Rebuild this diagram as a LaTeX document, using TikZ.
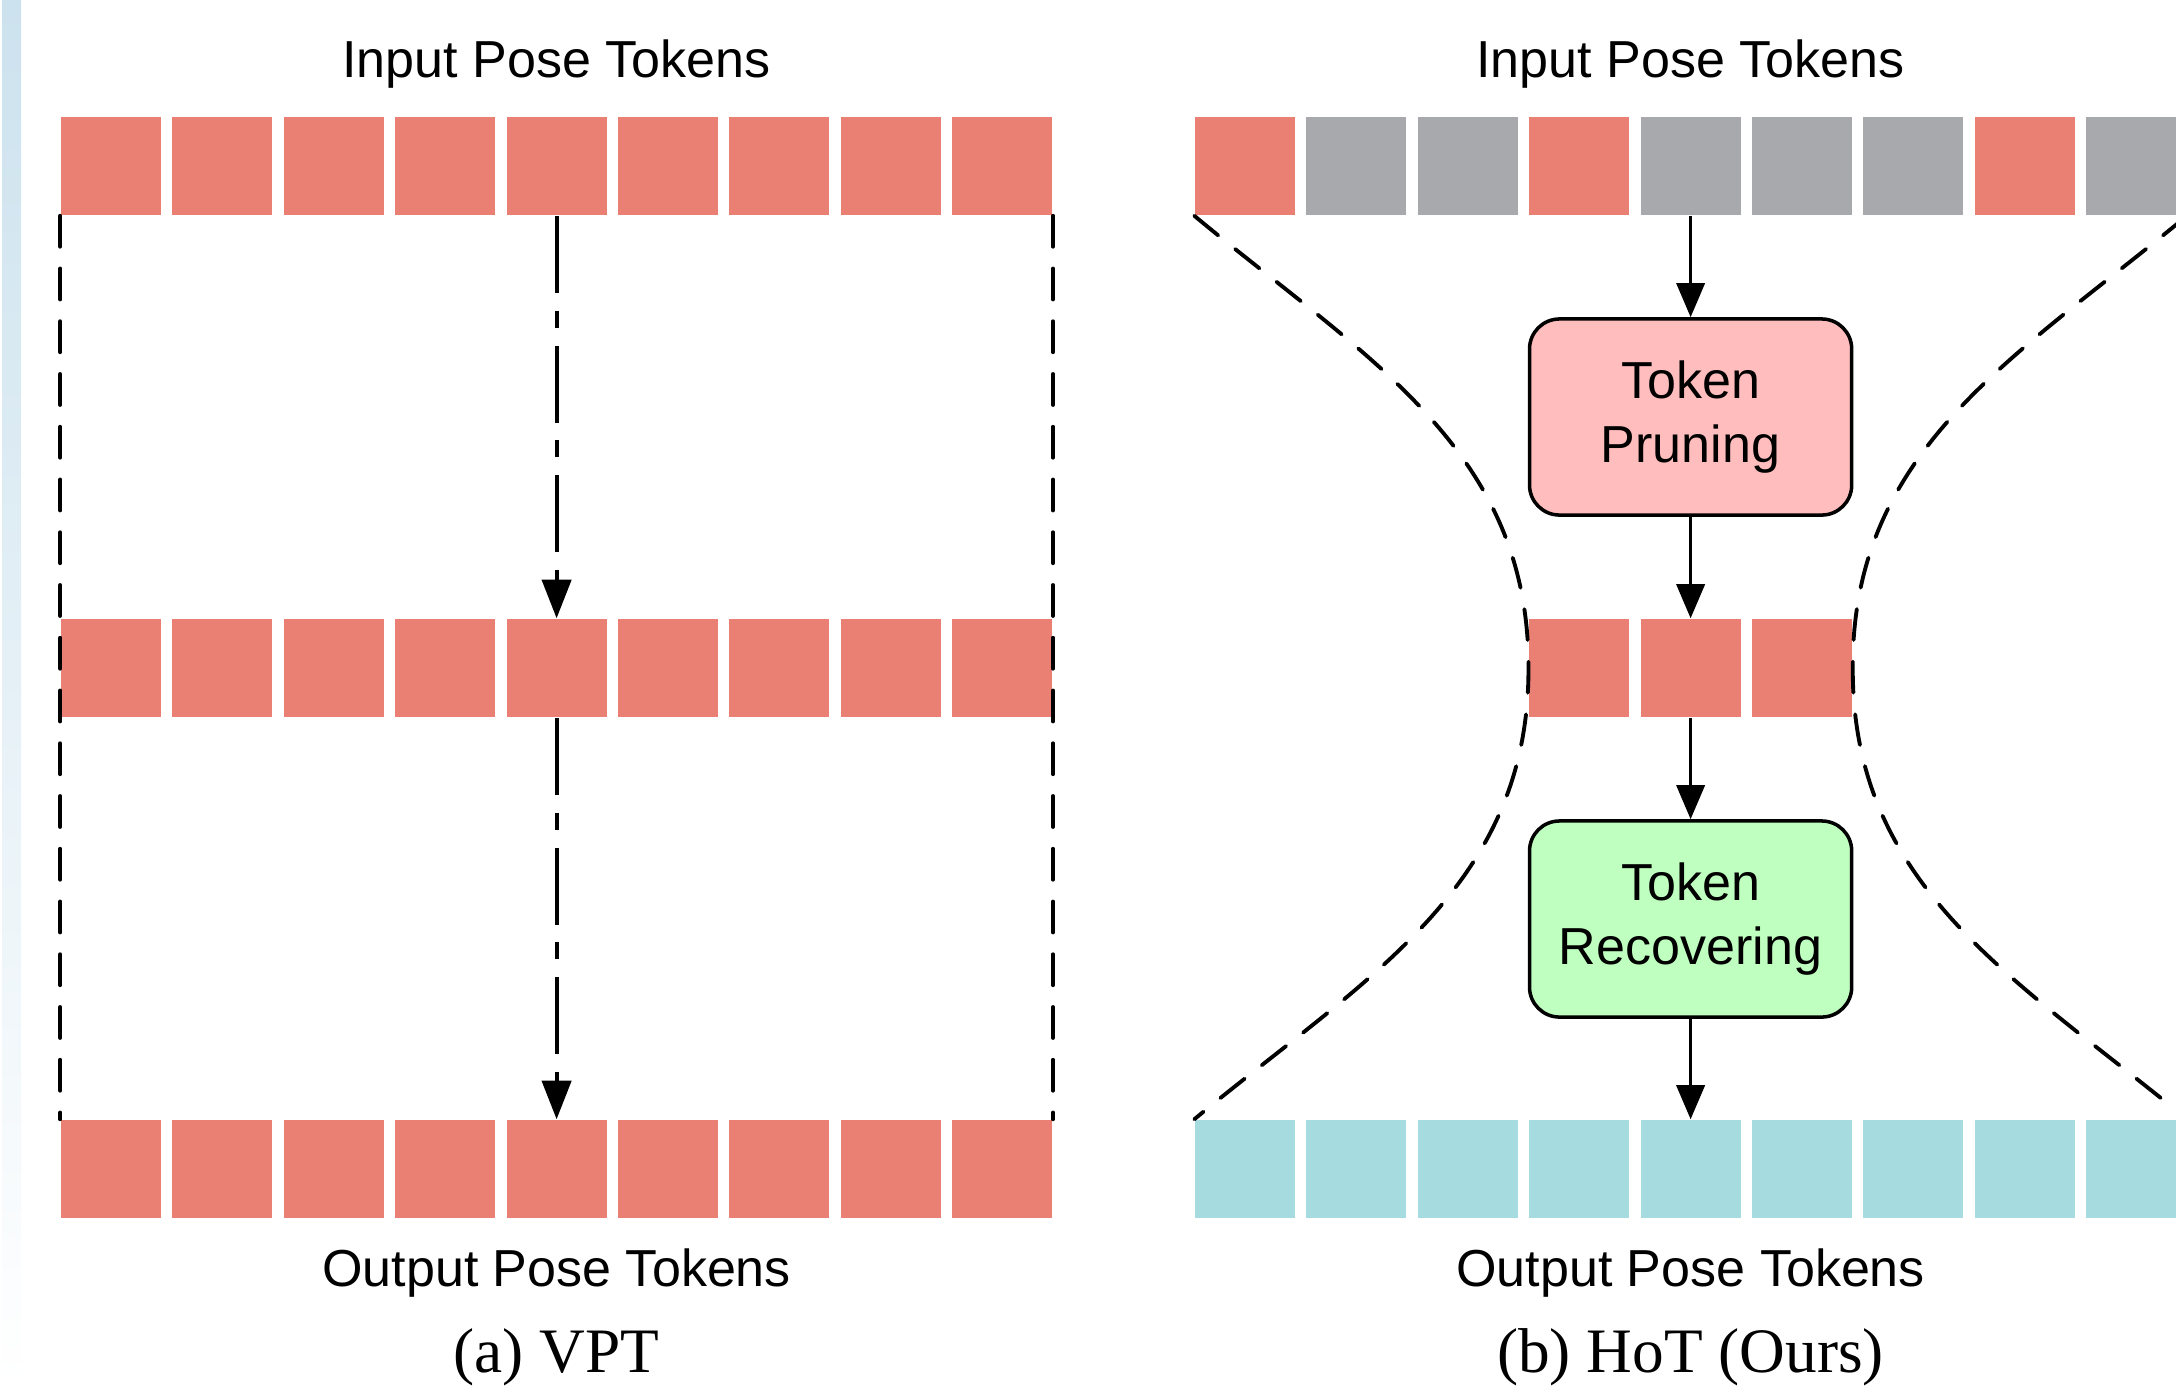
\documentclass[tikz,border=0pt]{standalone}
\usepackage{fontspec}
\setmainfont{Liberation Sans}
\newfontfamily\capfont{Liberation Serif}
\usetikzlibrary{arrows.meta,positioning}

\definecolor{tokred}{HTML}{EA7F73}
\definecolor{tokgray}{HTML}{A8A9AD}
\definecolor{tokcyan}{HTML}{A6DCDF}
\definecolor{prunefill}{HTML}{FFBDBD}
\definecolor{recoverfill}{HTML}{BFFFBF}
\definecolor{stripblue}{HTML}{CCE2EE}

\begin{document}
\begin{tikzpicture}[
		x=0.01cm, y=-0.01cm,
		tok/.style={minimum width=1cm, minimum height=0.98cm, inner sep=0pt, fill=#1},
		tok/.default=tokred,
		lbl/.style={font=\fontsize{14.8}{17.8}\selectfont},
		captxt/.style={font=\capfont\fontsize{18}{21}\selectfont},
		box/.style={draw, line width=1pt, rounded corners=0.3cm, minimum width=3.22cm,
			minimum height=1.96cm, align=center, font=\fontsize{14.8}{18}\selectfont},
		bound/.style={line width=1.1pt, line cap=round, dash pattern=on 8.8pt off 6.2pt},
		skip/.style={line width=1.1pt, -{Triangle[length=11pt, width=8.3pt]},
			dash pattern=on 21.9pt off 5.1pt on 4.8pt off 5.1pt},
		flow/.style={line width=1pt, -{Triangle[length=9.7pt, width=8pt]}},
		]
		
		\useasboundingbox (0,0) rectangle (2176,1387);
		\clip (0,0) rectangle (2176,1387);
		\shade[top color=stripblue, bottom color=white] (2,0) rectangle (21,1387);
		
		% (a) VPT
		\foreach \r/\y in {vin/166, vmid/668, vout/1169}
		\foreach \i in {0,...,8}
		\node[tok] (\r-\i) at (111+111.4*\i,\y) {};
		
		\draw[bound] (vin-0.south west) -- (vout-0.north west);
		\draw[bound] (vin-8.south east) -- (vout-8.north east);
		\draw[skip] (vin-4) -- (vmid-4);
		\draw[skip] (vmid-4) -- (vout-4);
		
		\node[lbl] (vtitle) at (556.6,64) {Input Pose Tokens};
		\node[lbl] (vsub) at (556.6,1273) {Output Pose Tokens};
		\node[captxt] (vcap) at (556.6,1357) {(a) VPT};
		
		% (b) HoT
		\foreach \c [count=\i from 0] in {tokred,tokgray,tokgray,tokred,tokgray,tokgray,tokgray,tokred,tokgray}
		\node[tok=\c] (hin-\i) at (1245+111.4*\i,166) {};
		\foreach \i in {3,4,5}
		\node[tok] (hmid-\i) at (1245+111.4*\i,668) {};
		\foreach \i in {0,...,8}
		\node[tok=tokcyan] (hout-\i) at (1245+111.4*\i,1169) {};
		
		\node[box, fill=prunefill] (prune) at (1690.6,417) {Token\\Pruning};
		\node[box, fill=recoverfill] (recover) at (1690.6,919) {Token\\Recovering};
		
		\draw[flow] (hin-4) -- (prune);
		\draw[flow] (prune) -- (hmid-4);
		\draw[flow] (hmid-4) -- (recover);
		\draw[flow] (recover) -- (hout-4);
		
		\draw[bound] (hin-0.south west) .. controls (1364,357) and (1529,448) .. (hmid-3.west)
		.. controls (1529,888) and (1364,979) .. (hout-0.north west);
		\draw[bound] (hin-8.south east) .. controls (2017,357) and (1852,448) .. (hmid-5.east)
		.. controls (1852,888) and (2017,979) .. (hout-8.north east);
		
		\node[lbl] (htitle) at (1690.6,64) {Input Pose Tokens};
		\node[lbl] (hsub) at (1690.6,1273) {Output Pose Tokens};
		\node[captxt] (hcap) at (1690.6,1357) {(b) HoT (Ours)};
		
	\end{tikzpicture}
\end{document}
